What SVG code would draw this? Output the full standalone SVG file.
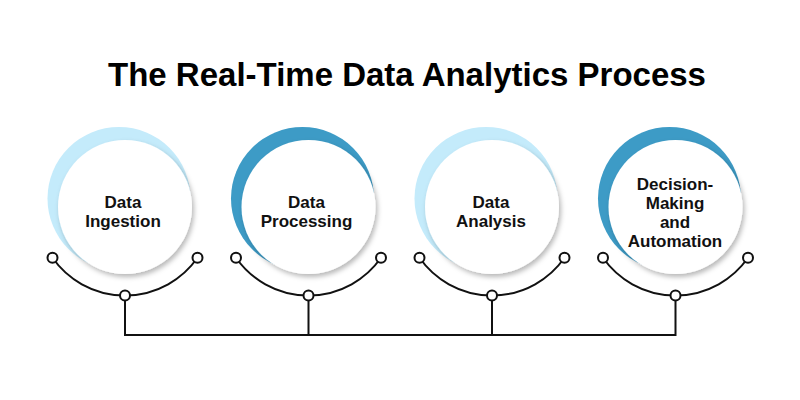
<svg xmlns="http://www.w3.org/2000/svg" width="800" height="400" viewBox="0 0 800 400">
  <defs>
    <filter id="sh" x="-20%" y="-20%" width="150%" height="150%">
      <feDropShadow dx="2" dy="3" stdDeviation="2.5" flood-color="#000" flood-opacity="0.28"/>
    </filter>
  </defs>
  <style>
    .title { font-family: "Liberation Sans", Arial, sans-serif; font-weight: bold; font-size: 33px; fill: #000; }
    .lbl { font-family: "Liberation Sans", Arial, sans-serif; font-weight: bold; font-size: 17px; fill: #111; text-anchor: middle; }
    .light { fill: #c4ebfb; }
    .dark { fill: #3d9bc6; }
    .disc { fill: #fff; filter: url(#sh); }
    .wire { fill: none; stroke: #111; stroke-width: 2; }
    .dot { fill: #fff; stroke: #111; stroke-width: 2; }
  </style>
  <rect width="800" height="400" fill="#fff"/>
  <text class="title" x="407" y="86" text-anchor="middle">The Real-Time Data Analytics Process</text>

  <g id="connectors">
    <path class="wire" d="M125 300.5 V335 H675.5 V300.5"/>
    <path class="wire" d="M308.5 300.5 V335"/>
    <path class="wire" d="M492 300.5 V335"/>
    <path class="wire" d="M52.5 257.75 A88.5 88.5 0 0 0 197.5 257.75"/>
    <path class="wire" d="M236 257.75 A88.5 88.5 0 0 0 381 257.75"/>
    <path class="wire" d="M419.5 257.75 A88.5 88.5 0 0 0 564.5 257.75"/>
    <path class="wire" d="M603 257.75 A88.5 88.5 0 0 0 748 257.75"/>
    <circle class="dot" cx="52.5" cy="257.75" r="5"/>
    <circle class="dot" cx="197.5" cy="257.75" r="5"/>
    <circle class="dot" cx="125" cy="295.5" r="5"/>
    <circle class="dot" cx="236" cy="257.75" r="5"/>
    <circle class="dot" cx="381" cy="257.75" r="5"/>
    <circle class="dot" cx="308.5" cy="295.5" r="5"/>
    <circle class="dot" cx="419.5" cy="257.75" r="5"/>
    <circle class="dot" cx="564.5" cy="257.75" r="5"/>
    <circle class="dot" cx="492" cy="295.5" r="5"/>
    <circle class="dot" cx="603" cy="257.75" r="5"/>
    <circle class="dot" cx="748" cy="257.75" r="5"/>
    <circle class="dot" cx="675.5" cy="295.5" r="5"/>
  </g>

  <g id="node-ingestion">
    <circle class="light" cx="119" cy="198.5" r="71.5"/>
    <circle class="disc" cx="125" cy="207" r="67"/>
    <text class="lbl" x="123" y="208">Data</text>
    <text class="lbl" x="123" y="226.5">Ingestion</text>
  </g>

  <g id="node-processing">
    <circle class="dark" cx="302.5" cy="198.5" r="71.5"/>
    <circle class="disc" cx="308.5" cy="207" r="67"/>
    <text class="lbl" x="306.5" y="208">Data</text>
    <text class="lbl" x="306.5" y="226.5">Processing</text>
  </g>

  <g id="node-analysis">
    <circle class="light" cx="486" cy="198.5" r="71.5"/>
    <circle class="disc" cx="492" cy="207" r="67"/>
    <text class="lbl" x="491" y="208">Data</text>
    <text class="lbl" x="491" y="226.5">Analysis</text>
  </g>

  <g id="node-decision">
    <circle class="dark" cx="669.5" cy="198.5" r="71.5"/>
    <circle class="disc" cx="675.5" cy="207" r="67"/>
    <text class="lbl" x="675" y="190">Decision-</text>
    <text class="lbl" x="675" y="209">Making</text>
    <text class="lbl" x="675" y="228">and</text>
    <text class="lbl" x="675" y="247">Automation</text>
  </g>
</svg>
